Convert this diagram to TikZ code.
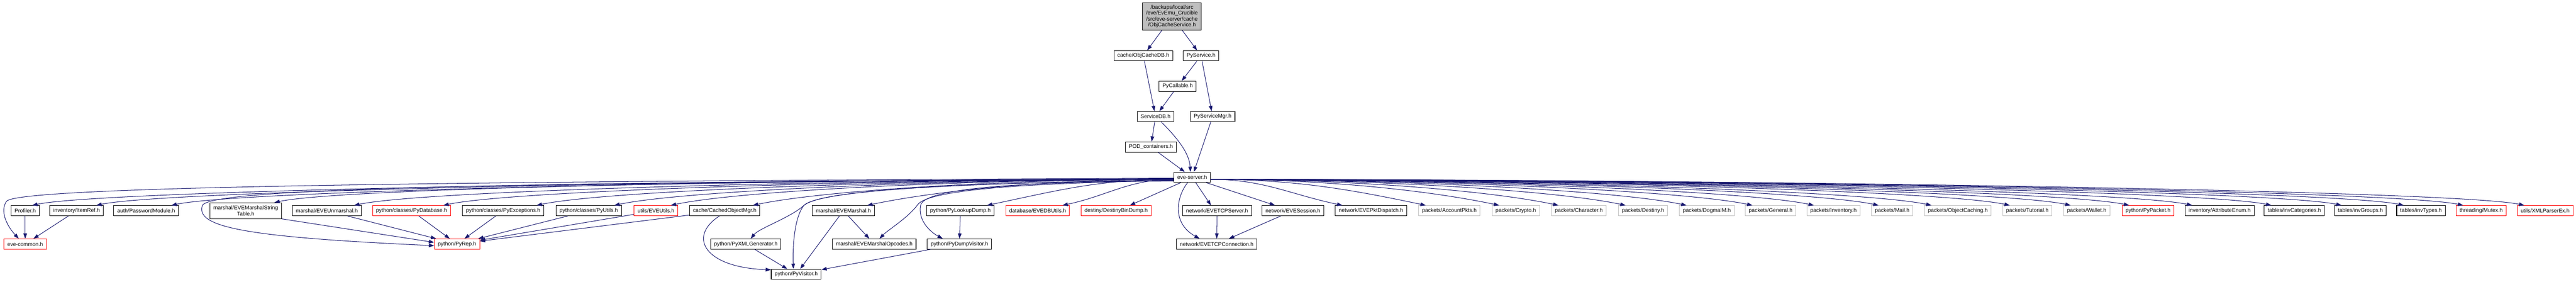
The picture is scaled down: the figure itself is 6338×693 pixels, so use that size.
\documentclass[tikz,border=0pt]{standalone}
\usepackage{fontspec}
\setmainfont{Liberation Sans}
\usetikzlibrary{arrows.meta,calc}
\definecolor{edgeblue}{HTML}{191970}
\definecolor{truncred}{HTML}{FF0000}
\definecolor{undocgrey}{HTML}{BFBFBF}

\tikzset{
    hdr/.style={draw=black, line width=1.3bp, inner xsep=8.5bp, inner ysep=3bp, minimum height=25bp,
        font=\fontsize{13.3}{14.7}\selectfont, align=center},
    trunc/.style={hdr, draw=truncred},
    undoc/.style={hdr, draw=undocgrey},
    incl/.style={draw=edgeblue, line width=1.3bp, -{Triangle[length=13bp,width=9bp]}},
}

\begin{document}
\begin{tikzpicture}[x=1bp, y=1bp]
    \useasboundingbox (0,0) rectangle (6338,693);

    % Top chain
    \node[hdr, fill=undocgrey, minimum height=67bp] (objsvc) at (2883.5,652.5) {/backups/local/src\\/eve/EvEmu\_Crucible\\/src/eve-server/cache\\/ObjCacheService.h};
    \node[hdr] (objdb) at (2813,556) {cache/ObjCacheDB.h};
    \node[hdr] (pysvc) at (2955,556) {PyService.h};
    \node[hdr] (pycall) at (2897.5,481) {PyCallable.h};
    \node[hdr] (svcdb) at (2843,406.5) {ServiceDB.h};
    \node[hdr] (svcmgr) at (2983.5,406.5) {PyServiceMgr.h};
    \node[hdr] (podc) at (2831.5,331.5) {POD\_containers.h};
    \node[hdr] (evesrv) at (2933,257) {eve-server.h};

    \draw[incl] (objsvc) -- (objdb);
    \draw[incl] (objsvc) -- (pysvc);
    \draw[incl] (objdb) -- (svcdb);
    \draw[incl] (pysvc) -- (pycall);
    \draw[incl] (pysvc) -- (svcmgr);
    \draw[incl] (pycall) -- (svcdb);
    \draw[incl] (svcdb) -- (podc);
    \draw[incl] ([xshift=14bp]svcdb.south) .. controls (2890,360) and (2926,320) .. ([xshift=-4bp]evesrv.north);
    \draw[incl] (podc) -- (evesrv);
    \draw[incl] (svcmgr) -- (evesrv);

    % Row 1 (included by eve-server.h)
    \node[hdr] (profiler) at (62,175) {Profiler.h};
    \node[hdr] (itemref) at (188.5,175) {inventory/ItemRef.h};
    \node[hdr] (passmod) at (359.5,175) {auth/PasswordModule.h};
    \node[hdr, minimum height=39bp] (strtab) at (604.5,175) {marshal/EVEMarshalString\\Table.h};
    \node[hdr] (unmarsh) at (804,175) {marshal/EVEUnmarshal.h};
    \node[trunc] (pydb) at (1012.5,175) {python/classes/PyDatabase.h};
    \node[hdr] (pyexc) at (1238,175) {python/classes/PyExceptions.h};
    \node[hdr] (pyutil) at (1448.5,175) {python/classes/PyUtils.h};
    \node[trunc] (eveutil) at (1614,175) {utils/EVEUtils.h};
    \node[hdr] (cachemgr) at (1783,175) {cache/CachedObjectMgr.h};
    \node[hdr] (marshal) at (2075,175) {marshal/EVEMarshal.h};
    \node[hdr] (lookup) at (2363,175) {python/PyLookupDump.h};
    \node[trunc] (evedb) at (2553,175) {database/EVEDBUtils.h};
    \node[trunc] (dbindump) at (2746,175) {destiny/DestinyBinDump.h};
    \node[hdr] (tcpsrv) at (2994.5,175) {network/EVETCPServer.h};
    \node[hdr] (session) at (3181,175) {network/EVESession.h};
    \node[hdr] (pktdisp) at (3373,175) {network/EVEPktDispatch.h};
    \node[undoc] (account) at (3566,175) {packets/AccountPkts.h};
    \node[undoc] (crypto) at (3729.5,175) {packets/Crypto.h};
    \node[undoc] (charpk) at (3884.5,175) {packets/Character.h};
    \node[undoc] (destpk) at (4042.5,175) {packets/Destiny.h};
    \node[undoc] (dogma) at (4199.5,175) {packets/DogmaIM.h};
    \node[undoc] (general) at (4356.5,175) {packets/General.h};
    \node[undoc] (invpk) at (4511,175) {packets/Inventory.h};
    \node[undoc] (mail) at (4655.5,175) {packets/Mail.h};
    \node[undoc] (objcpk) at (4817,175) {packets/ObjectCaching.h};
    \node[undoc] (tutorial) at (4988,175) {packets/Tutorial.h};
    \node[undoc] (wallet) at (5134,175) {packets/Wallet.h};
    \node[trunc] (pypacket) at (5285,175) {python/PyPacket.h};
    \node[hdr] (attrib) at (5461,175) {inventory/AttributeEnum.h};
    \node[hdr] (invcat) at (5645,175) {tables/invCategories.h};
    \node[hdr] (invgrp) at (5807.5,175) {tables/invGroups.h};
    \node[hdr] (invtyp) at (5956.5,175) {tables/invTypes.h};
    \node[trunc] (mutex) at (6104.5,175) {threading/Mutex.h};
    \node[trunc] (xmlpar) at (6262,175) {utils/XMLParserEx.h};

    % Row 2 and 3
    \node[trunc] (evecommon) at (62,93) {eve-common.h};
    \node[trunc] (pyrep) at (1124.5,93) {python/PyRep.h};
    \node[hdr] (xmlgen) at (1835,93) {python/PyXMLGenerator.h};
    \node[hdr] (opcodes) at (2151,93) {marshal/EVEMarshalOpcodes.h};
    \node[hdr] (dumpvis) at (2360.5,93) {python/PyDumpVisitor.h};
    \node[hdr] (tcpconn) at (2993.5,93) {network/EVETCPConnection.h};
    \node[hdr] (pyvisit) at (1959,18.5) {python/PyVisitor.h};

    % Fan out of eve-server.h
    \foreach \h in {profiler,itemref,passmod,strtab,unmarsh,pydb,pyexc,pyutil,eveutil,cachemgr,marshal,lookup,evedb}
        \draw[incl] let \p1=([yshift=-5bp]evesrv.west), \p2=([xshift=-18bp]\h.north east),
            \n1={0.4*(\x2-\x1)}, \n2={min(0.4*abs(\x2-\x1),176)}, \n3={0.21*\n2} in
            (\p1) .. controls +(\n1,0) and +(\n2,\n3) .. (\p2);
    \foreach \h in {pktdisp,account,crypto,charpk,destpk,dogma,general,invpk,mail,objcpk,tutorial,wallet,pypacket,attrib,invcat,invgrp,invtyp,mutex,xmlpar}
        \draw[incl] let \p1=([yshift=-5bp]evesrv.east), \p2=([xshift=18bp]\h.north west),
            \n1={0.4*(\x2-\x1)}, \n2={min(0.4*abs(\x2-\x1),176)}, \n3={0.21*\n2} in
            (\p1) .. controls +(\n1,0) and +(-\n2,\n3) .. (\p2);
    \draw[incl] ([xshift=-28bp]evesrv.south) -- ([xshift=34bp]dbindump.north);
    \draw[incl] ([xshift=9bp]evesrv.south) -- ([xshift=-15bp]tcpsrv.north);
    \draw[incl] ([xshift=35bp]evesrv.south) -- ([xshift=-44bp]session.north);

    % eve-server.h down to the lower rows
    \draw[incl] ([yshift=-2bp]evesrv.west) .. controls (1200,247) and (45,236) .. (16,198)
        .. controls (0,175) and (15,140) .. ([xshift=-16bp]evecommon.north);
    \draw[incl] ([yshift=-3bp]evesrv.west) .. controls (1300,244) and (520,232) .. (498,188)
        .. controls (480,135) and (600,110) .. ([yshift=-4bp]pyrep.west);
    \draw[incl] ([yshift=-7bp]evesrv.west) .. controls (2300,243) and (2015,222) .. (1978,188)
        .. controls (1945,158) and (1868,132) .. ([xshift=12bp]xmlgen.north);
    \draw[incl] ([yshift=-7bp]evesrv.west) .. controls (2300,243) and (2015,222) .. (1978,188)
        .. controls (1955,160) and (1950,90) .. ([xshift=-7bp]pyvisit.north);
    \draw[incl] ([yshift=-8bp]evesrv.west) .. controls (2600,244) and (2290,232) .. (2258,190)
        .. controls (2235,158) and (2185,128) .. ([xshift=13bp]opcodes.north);
    \draw[incl] ([yshift=-9bp]evesrv.west) .. controls (2600,246) and (2275,238) .. (2265,188)
        .. controls (2258,150) and (2290,122) .. ([xshift=-41bp]dumpvis.north);
    \draw[incl] ([xshift=-11bp]evesrv.south) .. controls (2895,210) and (2882,145) .. ([xshift=-42bp]tcpconn.north);

    % Between the lower rows
    \draw[incl] (profiler) -- (evecommon);
    \draw[incl] (itemref) -- (evecommon);
    \draw[incl] (strtab.south east) -- ([yshift=4bp]pyrep.west);
    \foreach \h in {unmarsh,pydb,pyexc,pyutil,eveutil,cachemgr}
        \draw[incl] (\h) -- (pyrep);
    \draw[incl] ([xshift=-13bp]cachemgr.south) .. controls (1690,110) and (1735,35) .. ([yshift=-2bp]pyvisit.north west);
    \draw[incl] (marshal) -- (pyvisit);
    \draw[incl] (marshal) -- (opcodes);
    \draw[incl] (lookup) -- (dumpvis);
    \draw[incl] (xmlgen) -- (pyvisit);
    \draw[incl] (dumpvis) -- (pyvisit);
    \draw[incl] (tcpsrv) -- (tcpconn);
    \draw[incl] (session) -- (tcpconn);
\end{tikzpicture}
\end{document}
